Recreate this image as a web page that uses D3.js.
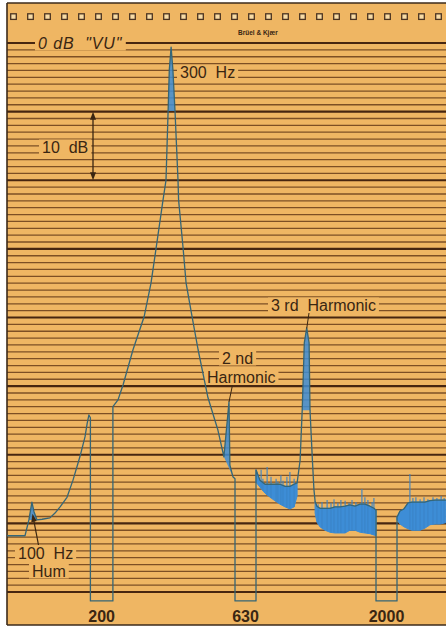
<!DOCTYPE html>
<html><head><meta charset="utf-8">
<script src="https://cdn.jsdelivr.net/npm/d3@7"></script>
<style>
html,body{margin:0;padding:0;background:#fff;}
svg{display:block;}
text{font-family:"Liberation Sans",Arial,Helvetica,sans-serif;white-space:pre;}
</style>
</head><body>
<svg id="c" width="446" height="626"></svg>
<script>
// ---------- DATA ----------
// recorder grid: level lines every 1 dB, 0 dB "VU" at top, -80 dB at bottom
const dbTicks = d3.range(0, -81, -1);
// range-change markers (notches) on the frequency sweep, paper travel in mm
const markerLabels = ["200", "630", "2000"];
const markerStart = [27.8, 76.0, 123.0];
const markerEnd   = [35.3, 83.0, 130.0];

// pen trace: [paper travel (mm), level (dB)]
const traceA = [
  [0.0,-71.8],[6.0,-71.8],[7.3,-69.5],[8.3,-66.9],[9.0,-68.3],[10.0,-69.5],[11.7,-69.4],
  [14.3,-69.2],[16.0,-68.5],[17.7,-67.6],[20.0,-66.2],[22.0,-63.7],[24.3,-60.3],[26.0,-57.4],
  [26.7,-55.5],[27.3,-54.2],[27.8,-54.6],
  [27.8,-81.3],[35.3,-81.3],
  [35.3,-53.0],[37.0,-52.0],[38.7,-49.8],[42.0,-44.7],[45.7,-39.9],[48.0,-35.0],[49.7,-29.9],
  [52.0,-22.9],[53.0,-20.0],[53.7,-9.9],[54.1,-3.9],[54.7,-0.6],[55.3,-3.9],[56.0,-9.9],
  [57.0,-20.0],[57.2,-22.9],[58.7,-29.9],[59.7,-35.0],[61.7,-39.9],[63.7,-44.7],[67.0,-51.7],
  [70.3,-56.4],[72.3,-60.3],[74.0,-52.3],[74.3,-61.5],[75.3,-63.2],[76.0,-63.5],
  [76.0,-81.3],[83.0,-81.3]
];
// noisy sections: [mm, upper dB, lower dB]
const bandB = [
  [83.0,-62.2,-64.0],[84.3,-63.7,-64.7],[86.0,-64.3,-65.6],[87.7,-64.3,-66.2],[89.3,-64.3,-66.7],
  [91.0,-64.3,-67.2],[92.7,-64.6,-67.6],[94.3,-64.6,-67.9],[95.7,-64.3,-67.6],[96.7,-64.1,-66.0]
];
const spikesB = [[84.7,-62.2],[85.3,-63.5],[86.7,-61.8],[88.0,-63.2],[89.7,-63.5],[90.3,-63.9],
  [91.3,-63.0],[92.0,-63.8],[93.3,-63.2],[94.3,-62.5],[95.7,-63.5]];
const trace3rd = [[97.7,-60.8],[98.4,-53.5],[99.1,-43.7],[99.9,-41.5],[100.7,-43.7],[101.0,-53.5],
  [101.8,-60.8],[102.3,-65.0]];
const bandC = [
  [102.7,-66.8,-68.5],[103.3,-67.5,-69.8],[104.3,-67.8,-70.5],[106.0,-67.8,-71.0],[107.7,-67.8,-71.3],
  [109.3,-67.6,-71.4],[111.0,-67.6,-71.4],[112.7,-67.5,-71.4],[114.3,-67.3,-71.0],[116.0,-67.5,-71.0],
  [117.7,-67.2,-71.3],[119.3,-67.2,-71.4],[121.0,-67.5,-71.5],[122.3,-67.8,-71.7],[123.0,-68.1,-71.8]
];
const spikesC = [[103.7,-67.2],[105.0,-66.9],[106.7,-66.6],[108.0,-67.0],[109.0,-66.5],[110.3,-67.0],
  [111.3,-66.6],[112.7,-66.7],[114.0,-67.0],[115.0,-66.6],[116.3,-66.9],[118.3,-65.0],[119.3,-66.2],
  [120.3,-66.6],[121.7,-66.9],[122.3,-66.3]];
const trace2000 = [[123.0,-81.3],[130.0,-81.3]];
const bandD = [
  [130.0,-69.1,-69.5],[131.0,-68.2,-70.1],[132.3,-67.9,-70.5],[133.7,-67.0,-70.8],[135.0,-66.9,-71.0],
  [136.3,-66.9,-71.0],[137.7,-66.9,-71.0],[139.3,-66.9,-70.7],[141.0,-66.7,-70.2],[142.7,-66.6,-70.1],
  [144.3,-66.6,-70.1],[146.3,-66.6,-69.9]
];
const spikesD = [[134.3,-62.8],[135.3,-66.3],[136.3,-66.2],[137.7,-66.5],[139.0,-66.2],[140.3,-66.5],
  [142.0,-66.2],[143.3,-66.3],[144.7,-66.0],[145.7,-66.3]];
// peaks whose tops are ink-filled: [from mm, to mm, down to dB]
const filledPeaks = [[7.3,10.0,-70],[53.7,56.0,-10],[97.7,101.8,-56],[72.3,75.3,-63.3]];

// ---------- DRAWING ----------
const W = 446, H = 626;
const paper = "#EFB663", ink = "#3a2612", pen = "#356677", blue = "#3d8dd6";
const svg = d3.select("#c");
const x = d3.scaleLinear().domain([0, 146.33]).range([7, 446]);
const y = d3.scaleLinear().domain([0, -80]).range([43, 592]);

svg.append("rect").attr("width", W).attr("height", H).attr("fill", "#fff");
svg.append("rect").attr("x", 7).attr("y", 3).attr("width", W - 7).attr("height", 622).attr("fill", paper);

// sprocket holes
svg.append("g").selectAll("rect").data(d3.range(26)).join("rect")
  .attr("x", i => 13.5 + 17 * i - 2.8).attr("y", 13.8)
  .attr("width", 5.6).attr("height", 5.6)
  .attr("fill", "#F7DCA6").attr("stroke", "#4a3320").attr("stroke-width", 1.3);

svg.append("text").attr("x", 238).attr("y", 35).text("Brüel & Kjær")
  .attr("font-size", 6.5).attr("font-weight", "bold").attr("fill", ink);

// grid lines
svg.append("g").selectAll("line").data(dbTicks).join("line")
  .attr("x1", 7).attr("x2", W)
  .attr("y1", d => y(d)).attr("y2", d => y(d))
  .attr("stroke", d => d % 10 === 0 ? "#472610" : "#7d4f24")
  .attr("stroke-width", d => d % 10 === 0 ? 2.1 : 1.3);

// frame
const frame = svg.append("g").attr("stroke", "#3b2a1a").attr("stroke-width", 1.6);
frame.append("line").attr("x1", 7).attr("x2", W).attr("y1", 3).attr("y2", 3);
frame.append("line").attr("x1", 7).attr("x2", 7).attr("y1", 3).attr("y2", 625);
frame.append("line").attr("x1", 7).attr("x2", W).attr("y1", 625).attr("y2", 625);

// labels with paper-coloured knock-out boxes
const labelLayer = svg.append("g");
function addLabel(txt, lx, cy, opts = {}) {
  const g = labelLayer.append("g");
  const rect = g.append("rect");
  const t = g.append("text").attr("x", lx).attr("y", cy)
    .attr("dominant-baseline", "central")
    .attr("font-size", opts.size || 16).attr("fill", ink)
    .attr("text-anchor", opts.anchor || "start")
    .attr("font-style", opts.italic ? "italic" : "normal")
    .attr("font-weight", opts.bold ? "bold" : "normal")
    .attr("letter-spacing", opts.spacing || 0)
    .text(txt);
  const bb = t.node().getBBox();
  rect.attr("x", bb.x - 3).attr("width", bb.width + 6)
    .attr("y", cy - 7.5).attr("height", 15).attr("fill", paper);
  return t;
}
addLabel('0 dB  "VU"', 38, 43, {italic: true, spacing: 0.9});
addLabel("300  Hz", 180, 72.5);
addLabel("10  dB", 42, 147);
addLabel("3 rd  Harmonic", 271, 305);
addLabel("2 nd", 222, 358);
addLabel("Harmonic", 207, 377);
addLabel("100  Hz", 18, 553);
addLabel("Hum", 32, 571);

// marker labels below the notches
svg.append("g").selectAll("text").data(markerLabels).join("text")
  .attr("x", (d, i) => x((markerStart[i] + markerEnd[i]) / 2))
  .attr("y", 616).attr("dominant-baseline", "central").attr("text-anchor", "middle")
  .attr("font-size", 16).attr("font-weight", "bold").attr("fill", ink).text(d => d);

// trace
const fullTrace = [].concat(
  traceA, bandB.map(d => [d[0], d[1]]), trace3rd, bandC.map(d => [d[0], d[1]]),
  trace2000, bandD.map(d => [d[0], d[1]])
);
const line = d3.line().x(d => x(d[0])).y(d => y(d[1]));
const area = d3.area().x(d => x(d[0])).y1(d => y(d[1])).y0(d => y(d[2]));

const traceG = svg.append("g");
// filled peak tops
filledPeaks.forEach(([a, b, lvl]) => {
  const pts = fullTrace.filter(d => d[0] >= a && d[0] <= b && d[1] >= lvl);
  traceG.append("path").attr("d", line(pts) + "Z").attr("fill", blue).attr("opacity", 0.85);
});
// noise bands
[[bandB, spikesB], [bandC, spikesC], [bandD, spikesD]].forEach(([band, spikes]) => {
  traceG.append("path").attr("d", area(band)).attr("fill", blue)
    .attr("stroke", blue).attr("stroke-width", 1);
  const lo = d3.scaleLinear().domain(band.map(d => d[0])).range(band.map(d => d[2]));
  traceG.append("g").selectAll("line").data(spikes).join("line")
    .attr("x1", d => x(d[0])).attr("x2", d => x(d[0]))
    .attr("y1", d => y(d[1])).attr("y2", d => y(lo(d[0])))
    .attr("stroke", "#3a84c8").attr("stroke-width", 1.1);
});
traceG.append("path").attr("d", line(fullTrace)).attr("fill", "none")
  .attr("stroke", pen).attr("stroke-width", 1.3).attr("stroke-linejoin", "round");

// annotation leaders and arrows
const ann = svg.append("g").attr("stroke", ink).attr("fill", ink);
// 10 dB span arrow
const ax = 93, yTop = y(-10), yBot = y(-20);
ann.append("line").attr("x1", ax).attr("x2", ax).attr("y1", yTop + 4).attr("y2", yBot - 4).attr("stroke-width", 1.3);
ann.append("path").attr("stroke", "none")
  .attr("d", `M${ax},${yTop}L${ax - 3},${yTop + 8}L${ax + 3},${yTop + 8}Z`);
ann.append("path").attr("stroke", "none")
  .attr("d", `M${ax},${yBot}L${ax - 3},${yBot - 8}L${ax + 3},${yBot - 8}Z`);
// 3rd harmonic leader
ann.append("line").attr("x1", 309).attr("y1", 313).attr("x2", x(99.9)).attr("y2", y(-41.6)).attr("stroke-width", 1);
// 2nd harmonic leader
ann.append("line").attr("x1", 232.5).attr("y1", 385).attr("x2", x(74.0)).attr("y2", y(-52.3)).attr("stroke-width", 1);
// 100 Hz hum leader with arrowhead
const tip = [x(8.5), y(-68.6)], tail = [38.5, 545];
const dx = tip[0] - tail[0], dy = tip[1] - tail[1], len = Math.hypot(dx, dy);
const ux = dx / len, uy = dy / len;
ann.append("line").attr("x1", tail[0]).attr("y1", tail[1]).attr("x2", tip[0] - ux * 4).attr("y2", tip[1] - uy * 4).attr("stroke-width", 1.2);
const bx = tip[0] - ux * 8, by = tip[1] - uy * 8;
ann.append("path").attr("stroke", "none")
  .attr("d", `M${tip[0]},${tip[1]}L${bx - uy * 2.8},${by + ux * 2.8}L${bx + uy * 2.8},${by - ux * 2.8}Z`);
</script>
</body></html>
